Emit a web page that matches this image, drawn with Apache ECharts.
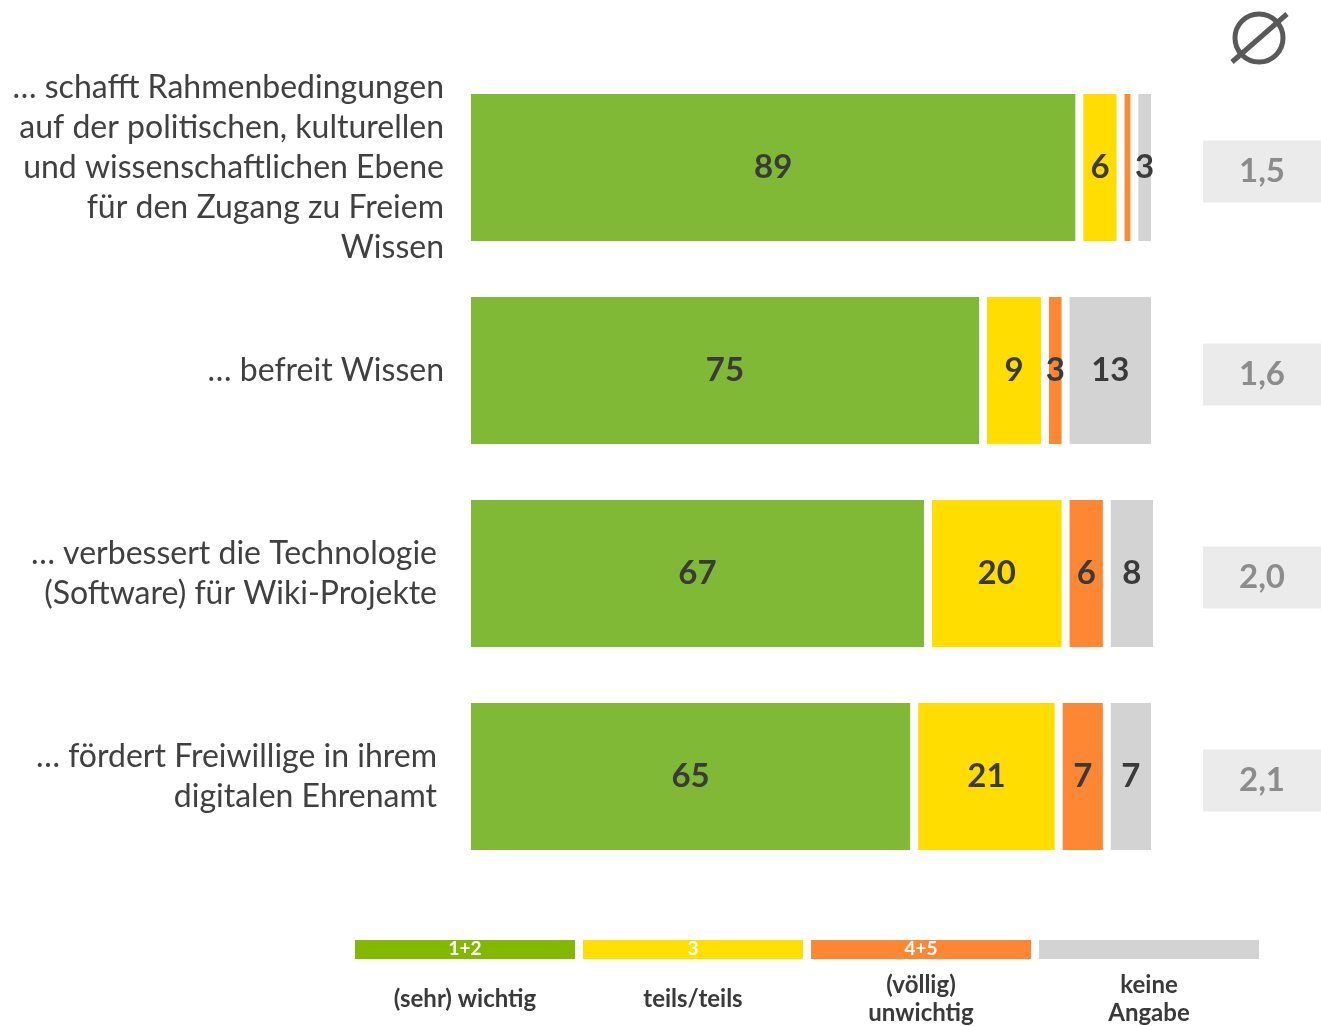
<!DOCTYPE html>
<html>
<head>
<meta charset="utf-8">
<script src="https://cdn.jsdelivr.net/npm/echarts@6/dist/echarts.min.js"></script>
<style>
  html, body { margin: 0; padding: 0; background: #fff; }
  #chart { width: 1321px; height: 1026px; }
</style>
</head>
<body>
<div id="chart"></div>
<script>
// statements (top to bottom)
const statements = [
  '… schafft Rahmenbedingungen\nauf der politischen, kulturellen\nund wissenschaftlichen Ebene\nfür den Zugang zu Freiem\nWissen',
  '… befreit Wissen',
  '… verbessert die Technologie\n(Software) für Wiki-Projekte',
  '… fördert Freiwillige in ihrem\ndigitalen Ehrenamt'
];

// percentages per answer group
const wichtig   = [89, 75, 67, 65];
const teils     = [6, 9, 20, 21];
const unwichtig = [2, 3, 6, 7];
const keine     = [3, 13, 8, 7];

// mean score (Ø)
const averages = [1.5, 1.6, 2.0, 2.1];

// legend
const legendCodes  = ['1+2', '3', '4+5', ''];
const legendLabels = ['(sehr) wichtig', 'teils/teils', '(völlig)\nunwichtig', 'keine\nAngabe'];
const barColors    = ['#80b935', '#ffdd00', '#fd8732', '#d3d3d3'];
const legendColors = ['#82b800', '#ffdf00', '#fd8732', '#d3d3d3'];

const FONT = 'Lato';

const chart = echarts.init(document.getElementById('chart'));

function makeSeries(name, values, color) {
  return {
    name: name,
    type: 'bar',
    stack: 'total',
    barWidth: 155,
    data: values,
    itemStyle: { color: color, borderColor: '#fff', borderWidth: 4 },
    label: {
      show: true,
      position: 'inside',
      color: '#3a3a3a',
      fontFamily: FONT,
      fontWeight: 'bold',
      fontSize: 33,
      formatter: p => (p.value >= 3 ? p.value : '')
    }
  };
}

// legend bar + text built from the legend arrays
const graphics = [];
legendCodes.forEach((code, i) => {
  const x = 355 + i * 228;
  graphics.push({
    type: 'rect', left: x, top: 940,
    shape: { width: 220, height: 19 },
    style: { fill: legendColors[i] }
  });
  graphics.push({
    type: 'text', x: x + 110, y: 949,
    style: {
      text: code, fill: '#fff', font: 'bold 19px ' + FONT,
      textAlign: 'center', textVerticalAlign: 'middle'
    }
  });
  graphics.push({
    type: 'text', x: x + 110, y: 999,
    style: {
      text: legendLabels[i], fill: '#3a3a3a', font: 'bold 24px ' + FONT,
      textAlign: 'center', textVerticalAlign: 'middle', lineHeight: 28
    }
  });
});

// Ø sign
graphics.push({
  type: 'circle',
  shape: { cx: 1259, cy: 38, r: 24 },
  style: { fill: 'none', stroke: '#595959', lineWidth: 5 }
});
graphics.push({
  type: 'line',
  shape: { x1: 1232, y1: 62, x2: 1287, y2: 14 },
  style: { stroke: '#595959', lineWidth: 5 }
});

chart.setOption({
  animation: false,
  backgroundColor: '#fff',
  grid: { left: 467, width: 688, top: 66, height: 812, outerBoundsMode: 'none', containLabel: false },
  xAxis: { type: 'value', min: 0, max: 100, show: false },
  yAxis: [
    {
      type: 'category',
      data: statements,
      inverse: true,
      axisLine: { show: false },
      axisTick: { show: false },
      axisLabel: {
        margin: 23,
        color: '#404040',
        fontFamily: FONT,
        fontSize: 32,
        lineHeight: 40,
        align: 'right',
        // the two lower statements sit a little further left
        formatter: (v, i) => i >= 2
          ? v.split('\n').map(l => '{p|' + l + '}').join('\n')
          : v,
        rich: {
          p: {
            padding: [0, 7, 0, 0],
            color: '#404040',
            fontFamily: FONT,
            fontSize: 32,
            lineHeight: 40
          }
        }
      }
    },
    {
      type: 'category',
      position: 'right',
      data: averages.map(v => v.toFixed(1).replace('.', ',')),
      inverse: true,
      axisLine: { show: false },
      axisTick: { show: false },
      axisLabel: {
        margin: 48,
        align: 'left',
        padding: [8, 0, 0, 0],
        formatter: v => '{b|' + v + '}',
        rich: {
          b: {
            width: 118, height: 62, align: 'center',
            backgroundColor: '#ebebeb',
            color: '#8c8c8c',
            fontFamily: FONT,
            fontWeight: 'bold',
            fontSize: 33
          }
        }
      }
    }
  ],
  series: [
    makeSeries('(sehr) wichtig', wichtig, barColors[0]),
    makeSeries('teils/teils', teils, barColors[1]),
    makeSeries('(völlig) unwichtig', unwichtig, barColors[2]),
    makeSeries('keine Angabe', keine, barColors[3])
  ],
  graphic: graphics
});
</script>
</body>
</html>
